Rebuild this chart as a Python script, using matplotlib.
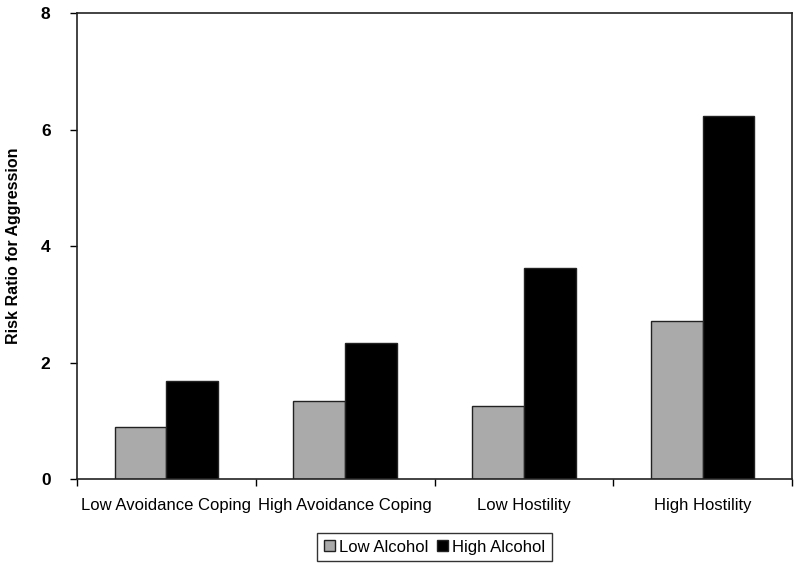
import matplotlib
matplotlib.use('Agg')
import matplotlib.pyplot as plt
import numpy as np

plt.rcParams['font.family'] = ['Liberation Sans', 'DejaVu Sans']

categories = ['Low Avoidance Coping', 'High Avoidance Coping', 'Low Hostility', 'High Hostility']
low_alcohol = [0.90, 1.34, 1.26, 2.71]
high_alcohol = [1.69, 2.33, 3.63, 6.24]
series_names = ['Low Alcohol', 'High Alcohol']
yticks = [0, 2, 4, 6, 8]

fig = plt.figure(figsize=(8, 5.71), dpi=100)
ax = fig.add_axes([0.09625, 0.1611, 0.99 - 0.09625, 0.9772 - 0.1611])

x = np.arange(len(categories))
w = 0.29
ax.bar(x - w / 2, low_alcohol, w, color='#aaaaaa', edgecolor='#222222', lw=1, label=series_names[0])
ax.bar(x + w / 2, high_alcohol, w, color='black', edgecolor='#222222', lw=1, label=series_names[1])

ax.set_xlim(-0.5, len(categories) - 0.5)
ax.set_ylim(0, 8)
ax.set_yticks(yticks)
ax.set_yticklabels([str(t) for t in yticks], fontsize=12.5, fontweight='bold')
ax.set_xticks(x)
ax.set_xticklabels(categories, fontsize=12)
ax.tick_params(axis='x', length=0, pad=14)
ax.set_xticks(np.arange(len(categories) + 1) - 0.5, minor=True)
ax.tick_params(axis='x', which='minor', length=5, width=1, direction='out')
ax.tick_params(axis='y', length=5, width=1, direction='out', pad=14)
for s in ax.spines.values():
    s.set_linewidth(1.2)
    s.set_color('#222222')

ax.set_ylabel('Risk Ratio for Aggression', fontsize=11.5, fontweight='bold', labelpad=14)

leg = ax.legend(loc='upper center', bbox_to_anchor=(0.5, -0.116), ncol=2, fontsize=12,
                frameon=True, fancybox=False, edgecolor='black', handlelength=0.65,
                handleheight=0.65, handletextpad=0.25, columnspacing=0.5, borderpad=0.4,
                borderaxespad=0)
leg.get_frame().set_linewidth(1)

fig.savefig('out.png', dpi=100)
